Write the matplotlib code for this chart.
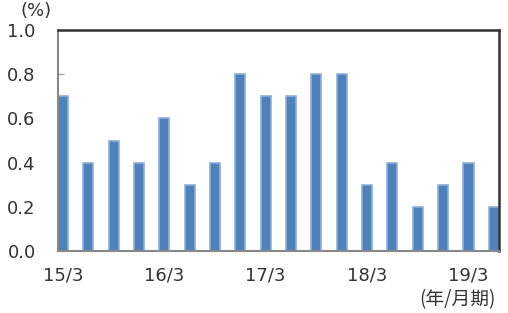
import numpy as np
import matplotlib.pyplot as plt

plt.rcParams['font.family'] = ['DejaVu Sans', 'Noto Sans CJK JP']

# quarterly values, 15/3 .. 19/6
values = [0.7, 0.4, 0.5, 0.4, 0.6, 0.3, 0.4, 0.8, 0.7, 0.7, 0.8, 0.8, 0.3, 0.4, 0.2, 0.3, 0.4, 0.2]
tick_pos = [0, 4, 8, 12, 16]
tick_labels = ['15/3', '16/3', '17/3', '18/3', '19/3']
y_ticks = [0.0, 0.2, 0.4, 0.6, 0.8, 1.0]

fig = plt.figure(figsize=(5.08, 3.13), dpi=100)
ax = fig.add_axes([0.114, 0.198, 0.868, 0.706])

x = np.arange(len(values))
ax.bar(x, values, width=0.4, color='#4f81bd', edgecolor='#8eaedb', linewidth=1.2, zorder=2)

ax.set_xlim(-0.2, len(values) - 0.8)
ax.set_ylim(0, 1.0)

ax.set_yticks(y_ticks)
ax.set_yticklabels(['%.1f' % v for v in y_ticks])
ax.set_xticks(tick_pos)
ax.set_xticklabels(tick_labels)

ax.tick_params(axis='y', direction='in', length=4, color='#999999', labelsize=13, pad=16, labelcolor='#333333')
ax.tick_params(axis='x', length=0, labelsize=13, pad=11, labelcolor='#333333')

ax.spines['left'].set_color('#888888')
ax.spines['bottom'].set_color('#888888')
ax.spines['left'].set_linewidth(1.5)
ax.spines['bottom'].set_linewidth(1.5)
ax.spines['top'].set_color('#333333')
ax.spines['right'].set_color('#333333')
ax.spines['top'].set_linewidth(1.8)
ax.spines['right'].set_linewidth(1.8)

fig.text(0.04, 0.935, '(%)', fontsize=13, color='#333333', ha='left', va='bottom')
fig.text(0.975, 0.01, '(年/月期)', fontsize=13.5, color='#333333', ha='right', va='bottom',
         family=['Noto Sans CJK JP', 'DejaVu Sans'])

fig.savefig('out.png', dpi=100)
